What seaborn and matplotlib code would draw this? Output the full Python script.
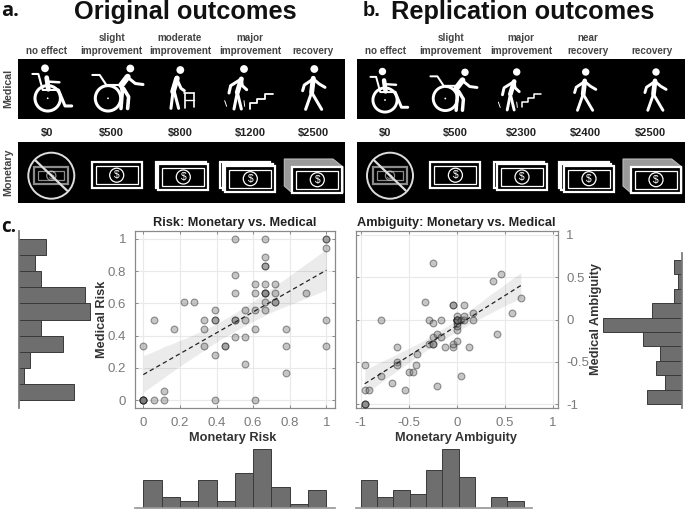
import matplotlib
matplotlib.use("Agg")
import matplotlib.pyplot as plt
from matplotlib.patches import Rectangle, Circle, Polygon
from matplotlib.collections import PolyCollection
import numpy as np
import seaborn as sns

W, H = 685, 509

# ---------- data ----------
risk_money = [0,0,0,0,0,.056,.111,.111,.389,.611,0,.056,.167,.222,.278,.333,.333,.333,.389,.389,.389,.389,
              .444,.444,.5,.5,.5,.5,.5,.5,.556,.556,.556,.556,.611,.611,.611,.611,.667,.667,.667,.667,.667,
              .667,.667,.667,.667,.667,.722,.722,.722,.722,.778,.778,.778,.889,1,1,1,1,1]
risk_med = [0,0,0,0,0,0,0,.056,0,0,.333,.5,.444,.611,.611,.5,.444,.333,.556,.5,.5,.278,
            .333,.333,1,.778,.667,.5,.5,.389,.556,.5,.389,.222,.722,.667,.556,.444,1,.889,.833,.833,.722,
            .667,.667,.667,.611,.556,.722,.667,.611,.611,.444,.333,.167,.667,1,1,.944,.5,.333]
amb_money = [-.96,-.96,-.96,-.96,-.91,-.96,-.79,-.79,-.67,-.62,-.62,-.62,-.54,-.5,-.46,-.42,-.41,-.33,-.29,-.29,
             -.25,-.25,-.25,-.25,-.25,-.21,-.21,-.16,-.16,-.125,-.04,-.04,-.04,-.04,0,0,0,0,0,0,0,0,0,0,0,0,
             .04,.04,.08,.08,.08,.125,.17,.17,.375,.42,.46,.58,.67]
amb_med = [-1,-1,-1,-.83,-.83,-.54,-.67,0,-.75,-.5,-.54,-.33,-.83,-.62,-.62,-.54,-.41,.21,0,-.29,
           -.29,-.29,-.21,-.04,.67,-.79,-.17,-.21,0,-.33,-.33,-.29,.17,.17,-.25,-.12,-.08,-.04,0,0,0,0,0,0,0,.04,
           -.67,0,0,.04,.17,-.33,0,.08,.46,-.17,.54,.08,.25]

risk_edges = [0, .1, .2, .3, .4, .5, .6, .7, .8, .9, 1]
amb_edges = [-1, -.83, -.66, -.49, -.32, -.15, .02, .19, .36, .53, .7]
risk_money_counts = [8, 3, 2, 8, 2, 10, 17, 6, 1, 5]
risk_med_counts = [10, 1, 2, 8, 4, 13, 12, 4, 3, 5]
amb_money_counts = [8, 3, 5, 4, 11, 17, 9, 0, 3, 2]
amb_med_counts = [8, 4, 6, 5, 9, 18, 7, 2, 1, 2]

risk_ticks = [0, .2, .4, .6, .8, 1]
risk_ticklabels = ["0", "0.2", "0.4", "0.6", "0.8", "1"]
amb_ticks = [-1, -.5, 0, .5, 1]
amb_ticklabels = ["-1", "-0.5", "0", "0.5", "1"]

orig_outcomes = ["no effect", "slight\nimprovement", "moderate\nimprovement", "major\nimprovement", "recovery"]
orig_money = ["$0", "$500", "$800", "$1200", "$2500"]
repl_outcomes = ["no effect", "slight\nimprovement", "major\nimprovement", "near\nrecovery", "recovery"]
repl_money = ["$0", "$500", "$2300", "$2400", "$2500"]

# ---------- style ----------
sns.set_theme(style="white")
plt.rcParams["font.family"] = ["Liberation Sans", "DejaVu Sans"]
GREY = "#7a7a7a"
BAR = "#6e6e6e"

fig = plt.figure(figsize=(W / 100, H / 100), dpi=100, facecolor="white")


def axes_px(l, t, r, b, **kw):
    return fig.add_axes([l / W, 1 - b / H, (r - l) / W, (b - t) / H], **kw)


bg = axes_px(0, 0, W, H)
bg.set_xlim(0, W)
bg.set_ylim(H, 0)
bg.axis("off")


def txt(x, y, s, **kw):
    kw.setdefault("ha", "center")
    kw.setdefault("va", "center")
    kw.setdefault("color", "#222222")
    bg.text(x, y, s, **kw)


# ---------- headings ----------
txt(1, 11, "a.", ha="left", fontsize=14.5, fontweight="bold", color="#111111", family=["Open Sans", "DejaVu Sans"])
txt(185.7, 11.5, "Original outcomes", fontsize=18.3, fontweight="bold", color="#111111")
txt(363, 10, "b.", ha="left", fontsize=14.5, fontweight="bold", color="#111111")
txt(523, 12, "Replication outcomes", fontsize=18.3, fontweight="bold", color="#111111")
txt(1, 227, "c.", ha="left", fontsize=13.5, fontweight="bold", color="#111111", family=["Open Sans", "DejaVu Sans"])

# ---------- black panels ----------
for x0, x1 in [(18, 345), (356.7, 685)]:
    for y0, y1 in [(58.7, 119.3), (142.3, 203.3)]:
        bg.add_patch(Rectangle((x0, y0), x1 - x0, y1 - y0, fc="black", ec="none"))
txt(8, 88, "Medical", rotation=90, fontsize=7.7, fontweight="bold", color="#444444")
txt(8, 172, "Monetary", rotation=90, fontsize=7.7, fontweight="bold", color="#444444")

for xs, labels in [((46.7, 111.7, 180, 250, 313.3), orig_outcomes),
                   ((385.3, 450.7, 521, 587.7, 651.7), repl_outcomes)]:
    for x, s in zip(xs, labels):
        parts = s.split("\n")
        txt(x, 50.5, parts[-1], fontsize=7.1, fontweight="bold", color="#444444")
        if len(parts) == 2:
            txt(x, 38.3, parts[0], fontsize=7.1, fontweight="bold", color="#444444")
for xs, labels in [((46.7, 111.7, 180, 250, 313.3), orig_money),
                   ((385.3, 455, 521, 585.7, 650.7), repl_money)]:
    for x, s in zip(xs, labels):
        txt(x, 132.7, s.replace("$", r"\$"), fontsize=8, fontweight="bold", color="#222222")


# ---------- pictograms ----------
def pl(x, y, pts, s=1.0, lw=2.2, color="white"):
    px = [x + p[0] / 3 * s for p in pts]
    py = [y + p[1] / 3 * s for p in pts]
    bg.plot(px, py, color=color, lw=lw * s, solid_capstyle="round", solid_joinstyle="round", scalex=False, scaley=False)


def head(x, y, s=1.0):
    bg.add_patch(Circle((x, y), 3.9 * s, fc="white", ec="none"))


def walker_person(x, y, s=1.0):
    head(x, y, s)
    pl(x, y, [(-3, 28), (-8, 70)], s, lw=3.6)
    pl(x, y, [(-8, 70), (-26, 121)], s)
    pl(x, y, [(-8, 70), (22, 121)], s)
    pl(x, y, [(-3, 30), (-30, 48), (-35, 65)], s)
    pl(x, y, [(-3, 30), (15, 45), (32, 55)], s)


def limper(x, y, s=1.0):
    head(x, y, s)
    pl(x, y, [(-8, 30), (-20, 70)], s, lw=3.6)
    pl(x, y, [(-20, 70), (-30, 120)], s)
    pl(x, y, [(-20, 70), (-8, 120)], s)
    pl(x, y, [(-8, 30), (-40, 50), (-45, 72)], s)
    pl(x, y, [(-8, 30), (-5, 50), (8, 62)], s)
    pl(x, y, [(-58, 95), (-52, 112)], s, lw=0.7)
    pl(x, y, [(0, 95), (2, 112)], s, lw=0.7)


def stairs(x, y, s=1.0):
    pl(x, y, [(0, 45), (0, 28), (22, 28), (22, 14), (44, 14), (44, 0), (68, 0)], s, lw=1.3)


def wheel(x, y, r, s=1.0):
    bg.add_patch(Circle((x, y), r, fc="none", ec="white", lw=2.2 * s))
    bg.add_patch(Circle((x, y), 0.9, fc="white", ec="none"))


def wheelchair(x, y, s=1.0):
    wheel(x, y, 12.7 * s, s)
    head(x - 2.7 * s, y - 30 * s, s)
    pl(x, y, [(-46, -73), (-28, -73), (-15, -25), (32, -25)], s, lw=1.5)
    pl(x, y, [(-3, -62), (2, -27)], s, lw=3.4)
    pl(x, y, [(2, -50), (35, -48)], s, lw=1.8)
    pl(x, y, [(32, -25), (52, 23), (72, 23)], s, lw=2.2)


def pusher(wx, wy, hx, hy, s=1.0):
    wheel(wx, wy, 12.7 * s, s)
    pl(wx, wy, [(-47, -70), (-25, -70), (-5, -40), (35, -40)], s, lw=1.5)
    head(hx, hy, s)
    pl(hx, hy, [(-8, 25), (-27, 50)], s, lw=4.4)
    pl(hx, hy, [(-27, 50), (-24, 70), (-28, 120)], s, lw=2.6)
    pl(hx, hy, [(-20, 60), (-5, 85), (-8, 120)], s, lw=2.6)
    pl(hx, hy, [(-6, 28), (15, 45), (38, 48)], s)


def frame_person(x, y, s=1.0):
    head(x, y, s)
    pl(x, y, [(-10, 25), (-22, 65)], s, lw=4)
    pl(x, y, [(-22, 65), (-28, 115)], s)
    pl(x, y, [(-18, 65), (-5, 115)], s)
    pl(x, y, [(-10, 28), (2, 55), (12, 62)], s)
    pl(x, y, [(12, 68), (42, 68)], s, lw=1.2)
    pl(x, y, [(14, 68), (14, 115)], s, lw=1.2)
    pl(x, y, [(42, 68), (42, 112)], s, lw=1.2)
    pl(x, y, [(14, 90), (42, 90)], s, lw=1.0)


def bill(cx, cy, alpha=1.0, w=50.0, h=26.0, plain=False):
    col = (1, 1, 1, alpha)
    bg.add_patch(Rectangle((cx - w / 2, cy - h / 2), w, h, fc="black", ec=col, lw=1.6))
    if plain:
        return
    bg.add_patch(Rectangle((cx - w / 2 + 4, cy - h / 2 + 4), w - 8, h - 8, fc="black", ec=col, lw=0.9))
    bg.add_patch(Circle((cx, cy), h * 0.27, fc="black", ec=col, lw=0.9))
    bg.text(cx, cy, r"\$", color=col, ha="center", va="center", fontsize=7.5)


def money_row(dx):
    # none
    bill(51.3 + dx, 175.7, alpha=.55, w=34, h=17)
    bg.add_patch(Circle((51.3 + dx, 175.7), 23, fc="none", ec="#dddddd", lw=1.4))
    bg.plot([35 + dx, 67 + dx], [160, 190.5], color="#dddddd", lw=1.6)
    # one
    bill(116.7 + dx, 175.2)
    # two
    bill(180.6 + dx, 175.3, plain=True)
    bill(183.3 + dx, 177)
    # three
    bill(245 + dx, 175, plain=True)
    bill(247.7 + dx, 177, plain=True)
    bill(250.3 + dx, 178.7)
    # block
    bg.add_patch(Polygon([(284.3 + dx, 159), (333 + dx, 159), (343 + dx, 167), (343 + dx, 192.7),
                          (292 + dx, 192.7), (284.3 + dx, 186)], closed=True, fc="#9a9a9a", ec="#bbbbbb", lw=.8))
    bill(317.3 + dx, 179.7)


money_row(0)
money_row(340 - 1.3)

wheelchair(47.7, 98.3)
pusher(108, 98.3, 130.3, 68.5)
frame_person(180.3, 70)
limper(244, 69)
stairs(250, 94)
walker_person(314.3, 69)

wheelchair(385, 100, .95)
pusher(445.3, 98.5, 465, 72.3, .95)
limper(516.7, 72, .95)
stairs(522, 94, .85)
walker_person(585.7, 72, .95)
walker_person(656, 72, .95)


# ---------- scatter panels ----------
def reg_panel(ax, x, y, lim, ticks, labels, title, xlabel, ylabel, xlab_pos, ylab_pos):
    sns.regplot(x=np.array(x), y=np.array(y), ax=ax, ci=95, n_boot=1000, seed=3, truncate=True,
                color="#777777",
                scatter_kws=dict(s=24, alpha=.42, edgecolor="#111111", linewidths=.8, zorder=3),
                line_kws=dict(color="#222222", lw=.9, ls=(0, (3.5, 2.5)), zorder=4))
    for coll in ax.collections:
        if isinstance(coll, PolyCollection):
            coll.set_alpha(.085)
    ax.set_xlim(*lim[0])
    ax.set_ylim(*lim[1])
    ax.set_xticks(ticks)
    ax.set_yticks(ticks)
    ax.set_xticklabels(labels)
    ax.set_yticklabels(labels)
    ax.grid(True, color="#e9e9e9", lw=.8, zorder=0)
    ax.set_axisbelow(True)
    ax.tick_params(direction="in", length=2.5, width=.6, color=GREY, labelcolor=GREY, labelsize=9.5,
                   top=True, bottom=True, left=True, right=True, pad=6)
    for sp in ax.spines.values():
        sp.set_visible(True)
        sp.set_color("#8a8a8a")
        sp.set_linewidth(.9)
    ax.set_title(title, fontsize=9.2, fontweight="bold", color="#222222", pad=3.5)
    ax.set_xlabel(xlabel, fontsize=9.2, fontweight="bold", color="#333333")
    ax.set_ylabel(ylabel, fontsize=9.2, fontweight="bold", color="#333333")
    ax.xaxis.set_label_coords(*xlab_pos)
    ax.yaxis.set_label_coords(*ylab_pos)


ax1 = axes_px(134.7, 230.7, 335, 408.3)
reg_panel(ax1, risk_money, risk_med, ((-.047, 1.047), (-.05, 1.05)), risk_ticks, risk_ticklabels,
          "Risk: Monetary vs. Medical", "Monetary Risk", "Medical Risk", (.49, -.135), (-.132, .5))
ax1.tick_params(labelleft=True, labelbottom=True, labelright=False, labeltop=False)

ax2 = axes_px(355.7, 230.7, 557.7, 408.3)
reg_panel(ax2, amb_money, amb_med, ((-1.054, 1.054), (-1.05, 1.05)), amb_ticks, amb_ticklabels,
          "Ambiguity: Monetary vs. Medical", "Monetary Ambiguity", "Medical Ambiguity", (.495, -.135), (1.16, .505))
ax2.yaxis.set_label_position("right")
ax2.yaxis.set_label_coords(1.16, .505)
ax2.tick_params(labelleft=False, labelright=True, labelbottom=True, labeltop=False)


# ---------- histograms ----------
def hist(ax, edges, counts, vertical=False):
    centers = [(a + b) / 2 for a, b in zip(edges[:-1], edges[1:])]
    key = "y" if vertical else "x"
    sns.histplot(**{key: centers}, weights=counts, bins=edges, ax=ax, color=BAR, alpha=1,
                 edgecolor="#3a3a3a", linewidth=.7)
    ax.set_xlabel("")
    ax.set_ylabel("")
    ax.set_xticks([])
    ax.set_yticks([])
    ax.patch.set_alpha(0)
    for sp in ax.spines.values():
        sp.set_visible(False)


h1 = axes_px(134.7, 447, 335, 507.7)
hist(h1, risk_edges, risk_money_counts)
h1.set_xlim(-.047, 1.047)
h1.set_ylim(0, 17.6)
h1.spines["bottom"].set_visible(True)
h1.spines["bottom"].set_color("#999999")

h2 = axes_px(355.7, 447, 532.4, 507.7)
hist(h2, amb_edges, amb_money_counts)
h2.set_xlim(-1.054, .79)
h2.set_ylim(0, 17.6)
h2.spines["bottom"].set_visible(True)
h2.spines["bottom"].set_color("#999999")

v1 = axes_px(18.7, 230.7, 92, 408.3)
hist(v1, risk_edges, risk_med_counts, vertical=True)
v1.set_xlim(0, 13.3)
v1.set_ylim(-.05, 1.05)
v1.spines["left"].set_visible(True)
v1.spines["left"].set_color("#777777")

v2 = axes_px(601, 252.7, 682.3, 408.3)
hist(v2, amb_edges, amb_med_counts, vertical=True)
v2.set_xlim(18.5, 0)
v2.set_ylim(-1.05, .787)
v2.spines["right"].set_visible(True)
v2.spines["right"].set_color("#777777")

fig.savefig("out.png", dpi=100, facecolor="white")
